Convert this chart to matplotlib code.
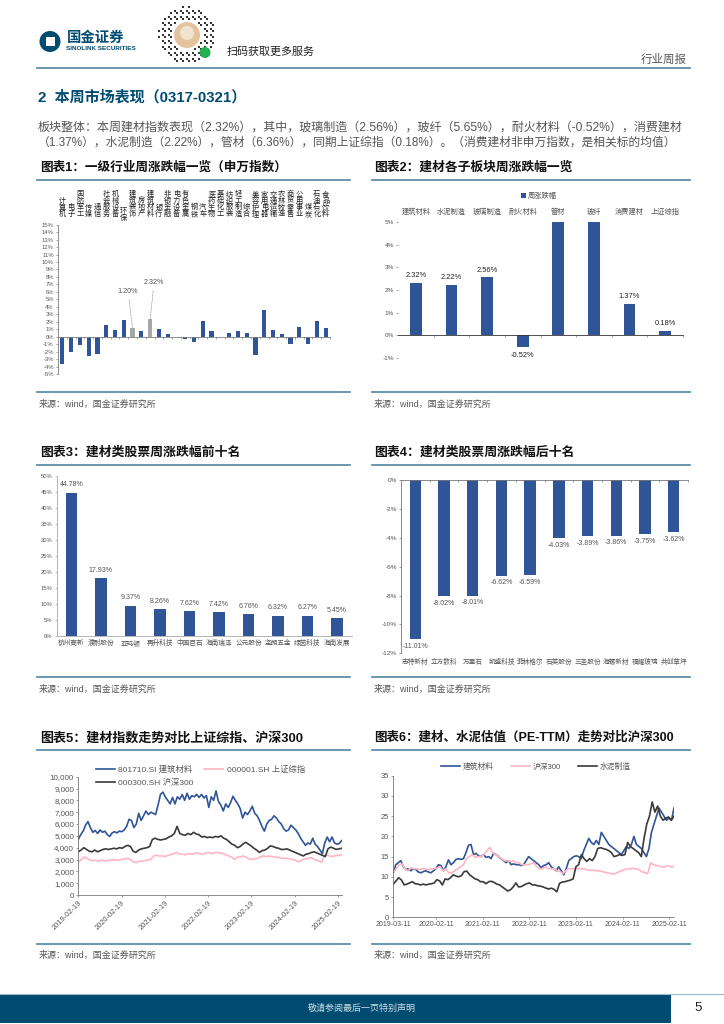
#!/usr/bin/env python3
# Report page: weekly building-materials market review, six charts.
import matplotlib
matplotlib.use("Agg")
import matplotlib.dates as mdates
import matplotlib.pyplot as plt
import numpy as np
import pandas as pd
from matplotlib.patches import Circle, Rectangle
from matplotlib.ticker import FuncFormatter

plt.rcParams["font.family"] = ["Liberation Sans", "Noto Sans CJK SC", "DejaVu Sans"]

# chart 1: first-level industries
ind_names = ["计算机", "电子", "国防军工", "传媒", "通信", "社会服务", "机械设备", "环保", "建筑装饰",
             "房地产", "建筑材料", "银行", "非银金融", "电力设备", "有色金属", "钢铁", "汽车", "医药生物",
             "基础化工", "纺织服装", "轻工制造", "综合", "美容护理", "家用电器", "交通运输", "农林牧渔",
             "商贸零售", "公用事业", "煤炭", "石油石化", "食品饮料"]
ind_chg = [-3.7, -2.0, -1.05, -2.6, -2.3, 1.6, 0.95, 2.3, 1.20, 0.8, 2.32, 1.05, 0.4, 0.0, -0.3,
           -0.7, 2.1, 0.7, -0.1, 0.45, 0.7, 0.45, -2.4, 3.6, 0.85, 0.35, -1.0, 1.25, -1.0, 2.1, 1.2]
ind_grey = ["建筑装饰", "建筑材料"]

# chart 2: sub-sectors (the two largest run past the axis top in the original)
sub_names = ["建筑材料", "水泥制造", "玻璃制造", "耐火材料", "管材", "玻纤", "消费建材", "上证综指"]
sub_chg = [2.32, 2.22, 2.56, -0.52, 6.36, 5.65, 1.37, 0.18]
sub_hide_label = ["管材", "玻纤"]

# chart 3 / 4: top and bottom ten stocks
top_names = ["杭州高新", "濮耐股份", "亚玛顿", "再升科技", "中国巨石", "海南瑞泽", "公元股份", "坚朗五金",
             "绿茵科技", "海南发展"]
top_chg = [44.78, 17.93, 9.37, 8.26, 7.62, 7.42, 6.76, 6.32, 6.27, 5.45]
low_names = ["志特新材", "立方数科", "万里石", "凯盛科技", "菲林格尔", "石英股份", "三圣股份", "海螺新材",
             "福耀玻璃", "共创草坪"]
low_chg = [-11.01, -8.02, -8.01, -6.62, -6.59, -4.03, -3.89, -3.86, -3.75, -3.62]

# chart 5: index levels, read about every three weeks, 2019-02-19 .. 2025-03-21
idx_blue = [4700, 5100, 5400, 5900, 6200, 5700, 5300, 5450, 5200, 5500, 5300, 5400, 5100, 4950, 5250,
            5350, 5250, 5400, 5350, 5500, 5800, 6400, 6300, 5700, 6000, 6900, 6300, 6700, 7100, 6800,
            7000, 6900, 6800, 7600, 8500, 8700, 8300, 8000, 7700, 8250, 7700, 8300, 8100, 8500, 8000,
            8600, 8100, 8400, 8300, 8500, 8250, 8500, 8200, 8400, 7400, 8300, 8000, 8800, 7900, 7600,
            7100, 7700, 7400, 7800, 8350, 8000, 7700, 7300, 6500, 7000, 6800, 7100, 7500, 6900, 6700,
            6300, 5800, 5400, 6000, 6300, 6400, 6700, 6500, 6200, 6000, 5600, 5400, 5500, 5900, 5700,
            5500, 5200, 4800, 4500, 4200, 4400, 4300, 4800, 4300, 4100, 3800, 3500, 4400, 4900, 4500,
            4900, 4400, 4300, 4350, 4600]
idx_pink = [2750, 3000, 3200, 3100, 2950, 2900, 2950, 2850, 2950, 2900, 2900, 2950, 3000, 2950, 2950,
            3000, 3050, 3100, 3000, 2800, 2750, 2850, 2850, 2900, 2950, 3000, 3300, 3350, 3300, 3300,
            3250, 3350, 3400, 3500, 3600, 3450, 3450, 3400, 3500, 3450, 3500, 3550, 3500, 3450, 3550,
            3600, 3500, 3550, 3600, 3550, 3500, 3400, 3300, 3200, 3000, 3200, 3200, 3300, 3200, 3050,
            3000, 3050, 3100, 3250, 3300, 3250, 3300, 3250, 3200, 3200, 3100, 3100, 3100, 3050, 3000,
            2950, 2800, 2900, 3050, 3050, 3150, 3100, 2950, 2900, 2750, 3300, 3350, 3300, 3250, 3350,
            3350, 3400]
idx_black = [3650, 3800, 4000, 3850, 3700, 3650, 3800, 3650, 3750, 3850, 3900, 3850, 3900, 3950, 3900,
             4000, 3950, 4100, 4200, 4100, 3700, 3600, 3800, 3900, 3950, 4000, 4100, 4700, 4800, 4700,
             4650, 4700, 4750, 4900, 5000, 5200, 5800, 5200, 5100, 5050, 5200, 5100, 5300, 5150, 5100,
             4900, 4950, 4850, 4900, 4850, 4950, 4900, 5000, 4800, 4700, 4500, 4300, 4200, 4000, 4100,
             4300, 4450, 4300, 4150, 3950, 3800, 3600, 3750, 3800, 3950, 4150, 4100, 4000, 3950, 3850,
             3850, 3900, 3800, 3700, 3600, 3500, 3400, 3300, 3450, 3500, 3600, 3650, 3550, 3450, 3350,
             3250, 3900, 4050, 3950, 3850, 3900, 3950]
idx_labels = ["801710.SI 建筑材料", "000001.SH 上证综指", "000300.SH 沪深300"]
idx_ticks = ["2019-02-19", "2020-02-19", "2021-02-19", "2022-02-19", "2023-02-19", "2024-02-19", "2025-02-19"]

# chart 6: PE-TTM, same sampling, 2019-03-11 .. 2025-03-21
pe_blue = [11, 13, 13.5, 14, 12.5, 11.8, 12, 11.5, 12, 11.8, 11.2, 11, 11.3, 11.5, 11.2, 11, 11.5, 12, 13,
           12.8, 11.5, 12.5, 14.2, 13, 13.5, 14.3, 14.5, 14.3, 14.5, 16, 17.8, 18, 15.5, 15.8, 15.2, 15,
           15.5, 14.8, 15, 14.5, 15.8, 15.5, 15, 14.5, 14, 13.5, 14, 13, 13.2, 13, 13, 12.8, 13, 14, 15,
           14.5, 14, 13.5, 13, 12.3, 12.8, 13, 13.5, 12.5, 12, 11.5, 12.5, 11.5, 10.5, 12, 14, 14.5, 15,
           15.2, 15, 14.5, 16.5, 18, 19.5, 18.5, 18, 19, 18, 21, 20, 19, 18, 17.5, 17, 16.5, 16, 15.5,
           16.5, 17.5, 17, 18, 20, 18, 17.5, 17, 16, 15, 17, 21, 23, 25, 27, 26, 25, 24, 24.5, 24, 27]
pe_pink = [11, 12, 13, 13.2, 12, 11.5, 12.3, 12, 12, 11.8, 12, 12, 11.7, 12, 12, 12.2, 12.5, 11.5, 12, 11,
           11, 11.5, 12, 12.5, 13, 14.5, 15, 15.5, 14.8, 15, 15, 15.5, 16.5, 17.3, 16, 15.5, 15, 14.5, 14,
           14, 13.8, 14, 13.5, 13.5, 13, 13, 13, 13.2, 13.5, 12.5, 12, 12, 12.5, 12, 12, 12, 11.5, 11.3,
           10.8, 11.5, 12, 12, 12, 12, 12, 12, 11.8, 11.6, 11.6, 11.6, 11.5, 11.4, 11.2, 11, 10.9, 10.7,
           10.8, 11.2, 11.5, 11.8, 11.9, 12, 12.1, 12, 11.8, 11.3, 11, 10.8, 13.5, 13, 12.8, 12.7, 12.4,
           12.5, 12.8, 12.4, 12.6]
pe_black = [8.2, 9, 9.8, 9.2, 8, 8.2, 8.5, 8.8, 8.3, 8.2, 8, 8.2, 8, 8.2, 8.3, 8.5, 9.3, 9, 8, 9.5, 9.3,
            9.8, 10.5, 10.2, 10, 10.3, 11.3, 11.4, 10.5, 10, 9.5, 9.3, 8.8, 8.8, 8.3, 8.8, 8.9, 8.6, 8.2,
            8, 7.5, 7, 6.5, 6.8, 7.5, 8.5, 7.5, 7.6, 8, 8.3, 8.5, 8, 8, 7.8, 7.7, 7.5, 7.2, 7, 7.2, 6.9,
            6.3, 8.4, 8.7, 8.8, 9, 9.2, 9.5, 12.5, 13, 15.5, 14.5, 13.8, 14.5, 14, 15, 17, 17.2, 17, 16.8,
            16.5, 16, 15, 15.2, 15.5, 15.3, 15.5, 18.5, 17.5, 17, 16.5, 16, 15, 19.5, 23, 25, 28.5, 26,
            27.5, 25, 24, 24.5, 24.8, 24, 25]
pe_labels = ["建筑材料", "沪深300", "水泥制造"]
pe_ticks = ["2019-03-11", "2020-02-11", "2021-02-11", "2022-02-11", "2023-02-11", "2024-02-11", "2025-02-11"]

BAR = "#2f5597"
GREY_BAR = "#a6a6a6"
TEAL = "#004b70"
RULE = "#5f8fa8"
LINE_BLUE = "#2f5597"
LINE_PINK = "#ffb6c1"
LINE_BLACK = "#3a3a3a"
INK = "#222222"
MUTED = "#555555"

W, H = 724, 1024
fig = plt.figure(figsize=(W / 100, H / 100), dpi=100, facecolor="white")

# page layer in pixel coordinates
page = fig.add_axes([0, 0, 1, 1])
page.set_xlim(0, W)
page.set_ylim(H, 0)
page.axis("off")


def px_axes(left, top, right, bottom):
    ax = fig.add_axes([left / W, 1 - bottom / H, (right - left) / W, (bottom - top) / H])
    ax.patch.set_alpha(0)
    for side in ("top", "right"):
        ax.spines[side].set_visible(False)
    return ax


def fit_text(x0, x1, y, s, size=8, **kw):
    # scale the font so the string spans x0..x1, the original is letterspaced
    t = page.text(x0, y, s, fontsize=size, va="center", ha="left", **kw)
    width = t.get_window_extent(fig.canvas.get_renderer()).width
    t.set_fontsize(size * (x1 - x0) / width)
    return t


def style_axis(ax, color="#7f7f7f", size=4.2):
    ax.tick_params(axis="both", length=1.5, width=0.5, labelsize=size, color=color,
                   labelcolor=MUTED, pad=1.5)
    for sp in ax.spines.values():
        sp.set_linewidth(0.6)
        sp.set_color(color)


def pct(v, pos=None):
    return f"{v:.0f}%"


# ---- header and footer ----
page.add_patch(Circle((50, 41.5), 10.5, color=TEAL, lw=0))
page.add_patch(Rectangle((45.5, 36.5), 9.5, 9.5, color="white", lw=0))
fit_text(66.5, 124, 38, "国金证券", size=10, color=TEAL, fontweight="bold")
fit_text(66.5, 137.5, 48, "SINOLINK SECURITIES", size=5, color=TEAL, fontweight="bold")

# mini-program code, only a rough stand-in pattern
qi, qj = np.meshgrid(np.arange(-14, 15), np.arange(-14, 15))
qr = np.hypot(qi, qj)
keep = (qr > 7.5) & (qr < 14.5) & ((qi * 7 + qj * 13 + qi * qj) % 3 == 0)
page.scatter(187 + qi[keep] * 2, 35 + qj[keep] * 2, s=1.6, marker="s", color="#333333", lw=0)
page.add_patch(Circle((187, 35), 13, color="#e3c39e", lw=0))
page.add_patch(Circle((187, 33), 7, color="#f2e3d0", lw=0))
page.add_patch(Circle((205, 52.5), 5.5, color="#22b14c", lw=0))
fit_text(227, 315, 52, "扫码获取更多服务", size=8, color=INK)
fit_text(641, 687, 59, "行业周报", size=8, color=MUTED)
page.plot([37, 690], [67.7, 67.7], color=RULE, lw=1.3)

fit_text(38, 247, 97, "2  本周市场表现（0317-0321）", size=10, color=TEAL, fontweight="bold")
fit_text(38, 686, 128, "板块整体：本周建材指数表现（2.32%），其中，玻璃制造（2.56%），玻纤（5.65%），耐火材料（-0.52%），消费建材",
         size=8, color=MUTED)
fit_text(38, 678, 143, "（1.37%），水泥制造（2.22%），管材（6.36%），同期上证综指（0.18%）。（消费建材非申万指数，是相关标的均值）",
         size=8, color=MUTED)

titles = [(40, 287, 168, "图表1：一级行业周涨跌幅一览（申万指数）"),
          (374, 573, 168, "图表2：建材各子板块周涨跌幅一览"),
          (40, 240, 453, "图表3：建材类股票周涨跌幅前十名"),
          (374, 575, 453, "图表4：建材类股票周涨跌幅后十名"),
          (40, 304, 738, "图表5：建材指数走势对比上证综指、沪深300"),
          (374, 675, 738, "图表6：建材、水泥估值（PE-TTM）走势对比沪深300")]
for x0, x1, y, s in titles:
    fit_text(x0, x1, y, s, size=8, color="#111111", fontweight="bold")

for top, bot, src in [(180, 391.7, 404), (465, 677, 689), (750, 944, 955)]:
    for x0, x1, tx0 in [(37, 350, 39), (372, 690, 374)]:
        page.plot([x0, x1], [top, top], color=RULE, lw=1.3)
        page.plot([x0, x1], [bot, bot], color=RULE, lw=1.3)
        fit_text(tx0, tx0 + 117, src, "来源：wind，国金证券研究所", size=6.5, color=MUTED)

page.add_patch(Rectangle((0, 994), 670.7, 29, color=TEAL, lw=0))
page.plot([0, W], [993.5, 993.5], color="#9fb8c6", lw=0.8)
page.text(362, 1008, "敬请参阅最后一页特别声明", fontsize=6.5, color="#cfdde5", ha="center", va="center")
page.text(698, 1008, "5", fontsize=9.5, color=INK, ha="center", va="center")

# ---- chart 1 ----
ax = px_axes(58, 224.7, 330, 374)
x = np.arange(len(ind_names))
ax.bar(x, ind_chg, 0.48, color=[GREY_BAR if n in ind_grey else BAR for n in ind_names])
ax.set_xlim(-0.5, len(ind_names) - 0.5)
ax.set_ylim(-5, 15)
ax.set_yticks(np.arange(-5, 16))
ax.yaxis.set_major_formatter(FuncFormatter(pct))
ax.set_xticks(x + 0.5)
ax.set_xticklabels([])
ax.spines["bottom"].set_position(("data", 0))
style_axis(ax, size=4.2)
for name, xi, offs in [("建筑装饰", 8, (128, 292)), ("建筑材料", 10, (154, 283))]:
    val = ind_chg[ind_names.index(name)]
    tx, ty = ax.transData.inverted().transform((offs[0], H - offs[1]))
    ax.annotate(f"{val:.2f}%", xy=(xi, val), xytext=(tx, ty), fontsize=5.2, color=MUTED,
                ha="center", va="center",
                arrowprops=dict(arrowstyle="-", color="#888888", lw=0.4, ls="--", shrinkA=1, shrinkB=0))
for xi, name in zip(x, ind_names):
    px = 58 + (xi + 0.5) * 272 / len(ind_names)
    page.text(px, 218 if name != "环保" else 222, "\n".join(name), fontsize=5.2, color=INK,
              ha="center", va="bottom", linespacing=0.9)

# ---- chart 2 ----
ax = px_axes(398, 222.3, 683, 357.7)
x = np.arange(len(sub_names))
bars = ax.bar(x, sub_chg, 0.33, color=BAR)
ax.set_xlim(-0.5, len(sub_names) - 0.5)
ax.set_ylim(-1, 5)
ax.yaxis.set_major_formatter(FuncFormatter(pct))
ax.set_xticks(x + 0.5)
ax.set_xticklabels([])
ax.spines["bottom"].set_position(("data", 0))
ax.spines["left"].set_visible(False)
style_axis(ax, size=4.6)
ax.spines["bottom"].set_color("#333333")
for r, v, name in zip(bars, sub_chg, sub_names):
    if name in sub_hide_label:
        continue
    y = v + 0.32 if v > 0 else v - 0.38
    ax.text(r.get_x() + r.get_width() / 2, y, f"{v:.2f}%", ha="center", va="center", fontsize=5.4, color=INK)
for xi, name in zip(x, sub_names):
    ax.text(xi, 1.073, name, transform=ax.get_xaxis_transform(), ha="center", va="center",
            fontsize=5.2, color=MUTED)
leg = ax.legend([bars], ["周涨跌幅"], loc="center", bbox_to_anchor=(0.495, 1.188), frameon=False,
                fontsize=5.2, handlelength=0.7, handleheight=0.7, handletextpad=0.3)
leg.get_texts()[0].set_color(MUTED)

# ---- chart 3 ----
ax = px_axes(56.7, 476, 351.7, 635.7)
x = np.arange(len(top_names))
bars = ax.bar(x, top_chg, 0.4, color=BAR)
ax.set_xlim(-0.5, len(top_names) - 0.5)
ax.set_ylim(0, 50)
ax.set_yticks(np.arange(0, 51, 5))
ax.yaxis.set_major_formatter(FuncFormatter(pct))
ax.set_xticks(x)
ax.set_xticklabels(top_names)
style_axis(ax, color="#aaaaaa", size=4.2)
ax.tick_params(axis="x", length=0, labelsize=4.8, pad=3)
for r, v in zip(bars, top_chg):
    ax.text(r.get_x() + r.get_width() / 2, v + 2.5, f"{v:.2f}%", ha="center", va="center", fontsize=5, color=MUTED)

# ---- chart 4 ----
ax = px_axes(401, 480, 688, 653.3)
x = np.arange(len(low_names))
bars = ax.bar(x, low_chg, 0.4, color=BAR)
ax.set_xlim(-0.5, len(low_names) - 0.5)
ax.set_ylim(-12, 0)
ax.set_yticks(np.arange(-12, 1, 2))
ax.yaxis.set_major_formatter(FuncFormatter(pct))
ax.set_xticks(x + 0.5)
ax.set_xticklabels([])
ax.spines["bottom"].set_position(("data", 0))
style_axis(ax, color="#777777", size=4.6)
for r, v in zip(bars, low_chg):
    ax.text(r.get_x() + r.get_width() / 2, v - 0.5, f"{v:.2f}%", ha="center", va="center", fontsize=5, color=MUTED)
for xi, name in zip(x, low_names):
    ax.text(xi, -0.055, name, transform=ax.get_xaxis_transform(), ha="center", va="center",
            fontsize=4.8, color=MUTED)

# ---- chart 5 ----
ax = px_axes(78.3, 776.7, 341.7, 895)
start, end = pd.Timestamp("2019-02-19"), pd.Timestamp("2025-03-21")
l_blue, = ax.plot(pd.date_range(start, end, periods=len(idx_blue)), idx_blue, color=LINE_BLUE, lw=1.2)
l_pink, = ax.plot(pd.date_range(start, end, periods=len(idx_pink)), idx_pink, color=LINE_PINK, lw=1.2)
l_black, = ax.plot(pd.date_range(start, end, periods=len(idx_black)), idx_black, color=LINE_BLACK, lw=1.2)
ax.set_xlim(start, end)
ax.set_ylim(0, 10000)
ax.set_yticks(np.arange(0, 10001, 1000))
ax.yaxis.set_major_formatter(FuncFormatter(lambda v, p: f"{v:,.0f}"))
ax.set_xticks([pd.Timestamp(t) for t in idx_ticks])
ax.xaxis.set_major_formatter(mdates.DateFormatter("%Y-%m-%d"))
style_axis(ax, color="#777777", size=5.8)
ax.tick_params(axis="x", labelrotation=45, labelsize=5.4)
for lab in ax.get_xticklabels():
    lab.set_ha("right")
    lab.set_rotation_mode("anchor")
fig.legend([l_blue, l_black, l_pink], [idx_labels[0], idx_labels[2], idx_labels[1]], ncol=2,
           loc="center left", bbox_to_anchor=(88 / W, 1 - 776 / H), frameon=False, fontsize=6,
           handlelength=2.3, handletextpad=0.4, columnspacing=1.3, labelspacing=0.55, labelcolor=MUTED)

# ---- chart 6 ----
ax = px_axes(393.3, 775.7, 674, 917.3)
start, end = pd.Timestamp("2019-03-11"), pd.Timestamp("2025-03-21")
l_blue, = ax.plot(pd.date_range(start, end, periods=len(pe_blue)), pe_blue, color=LINE_BLUE, lw=1.2)
l_pink, = ax.plot(pd.date_range(start, end, periods=len(pe_pink)), pe_pink, color=LINE_PINK, lw=1.2)
l_black, = ax.plot(pd.date_range(start, end, periods=len(pe_black)), pe_black, color=LINE_BLACK, lw=1.2)
ax.set_xlim(start, end)
ax.set_ylim(0, 35)
ax.set_yticks(np.arange(0, 36, 5))
ax.set_xticks([pd.Timestamp(t) for t in pe_ticks])
ax.xaxis.set_major_formatter(mdates.DateFormatter("%Y-%m-%d"))
style_axis(ax, color="#777777", size=5.4)
ax.tick_params(axis="x", labelsize=5)
fig.legend([l_blue, l_pink, l_black], pe_labels, ncol=3, loc="center", bbox_to_anchor=(536 / W, 1 - 767 / H),
           frameon=False, fontsize=5.6, handlelength=2.4, handletextpad=0.4, columnspacing=2.2, labelcolor=MUTED)

fig.savefig("out.png", dpi=100)
